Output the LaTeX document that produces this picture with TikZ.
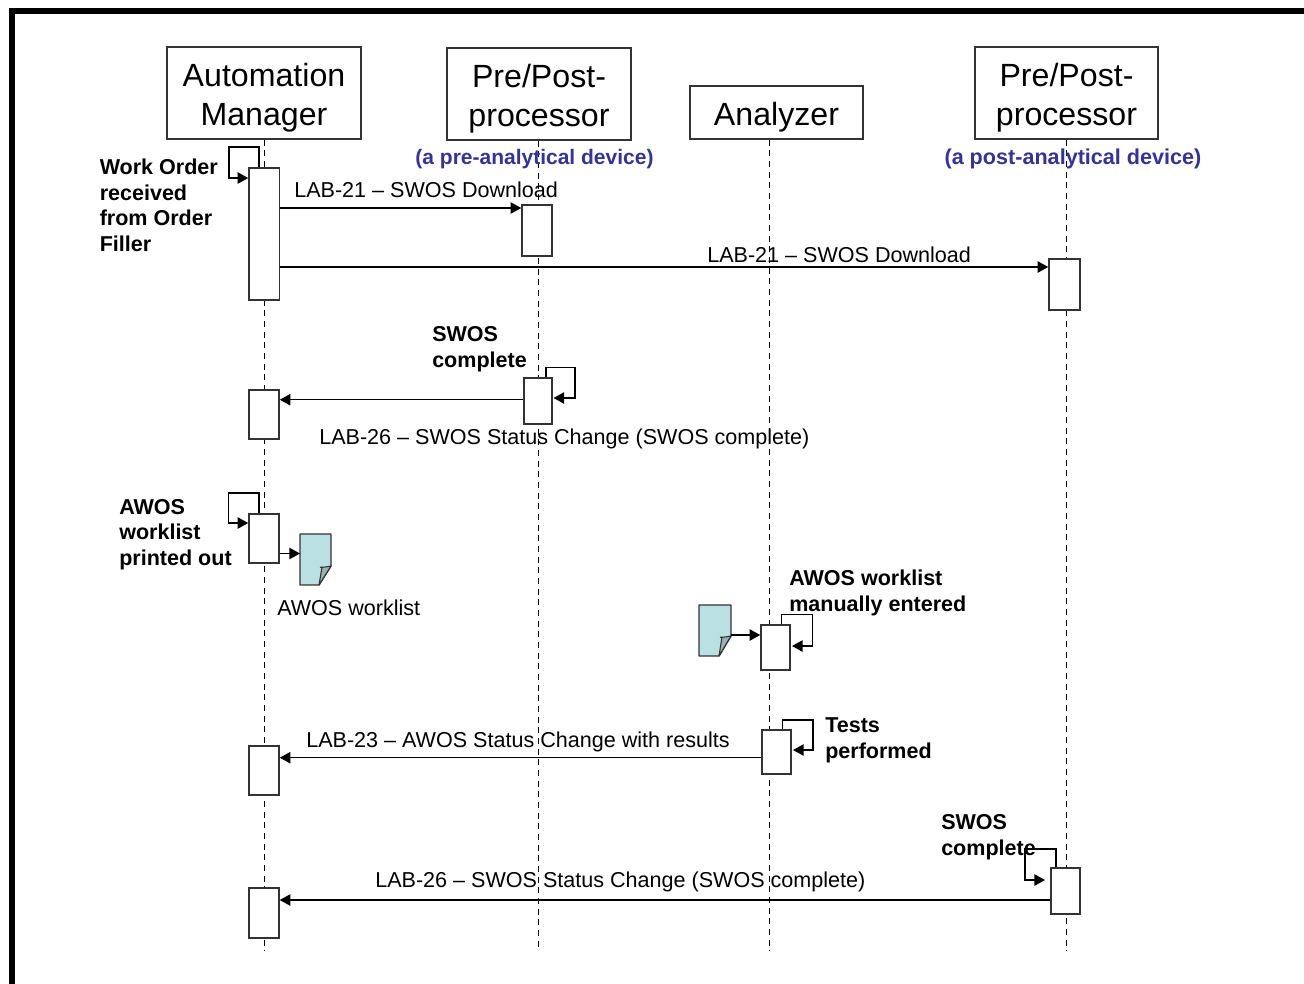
\documentclass[tikz,border=0pt]{standalone}
\usepackage{fontspec}
\setmainfont{Liberation Sans}
\usetikzlibrary{arrows.meta,calc}
\definecolor{inkgray}{HTML}{333333}
\definecolor{docfill}{HTML}{BBE0E3}
\definecolor{docfold}{HTML}{96B3B6}
\definecolor{noteblue}{HTML}{333399}
\tikzset{
  headbox/.style={draw=inkgray,line width=.95pt,fill=white,inner sep=0pt,align=center,font=\fontsize{24.1}{29.25}\selectfont},
  actbox/.style={draw=inkgray,line width=1.1pt,fill=white,inner sep=0pt},
  lifeline/.style={black,line width=.9pt,dash pattern=on 4.4pt off 3.6pt},
  msg/.style={black,line width=1.15pt,-{Triangle[length=8pt,width=8.5pt]}},
  msgtext/.style={inner sep=0pt,anchor=base west,font=\fontsize{16.17}{19.1}\selectfont},
  notetext/.style={inner sep=0pt,anchor=base west,align=left,font=\fontsize{16.15}{19.1}\selectfont\bfseries},
  bluetext/.style={inner sep=0pt,anchor=base,text=noteblue,font=\fontsize{15.75}{19.1}\selectfont\bfseries},
  bluetextwide/.style={bluetext,font=\fontsize{16.2}{19.1}\selectfont\bfseries},
  docsheet/.style={draw=inkgray,line width=1.1pt,fill=docfill,line join=round},
  docflap/.style={draw=inkgray,line width=.8pt,fill=docfold,line join=round},
}
\newcommand{\pxbox}[6]{\node[#1,minimum width={(#4-#2)*.75pt},minimum height={(#5-#3)*.75pt}] (#6) at ({(#2+#4)/2},{(#3+#5)/2})}
\newcommand{\hup}{\rule{0pt}{23.95pt}}
\newcommand{\hdn}{\rule[-5.2pt]{0pt}{5.2pt}}
\begin{document}
\begin{tikzpicture}[x=.75pt,y=-.75pt]
\useasboundingbox (0,0) rectangle (1304,983);
\draw[black,line width=4.5pt] (12,990) -- (12,11) -- (1310,11);
% headers
\pxbox{headbox}{167}{47}{361}{139}{hA} {\hup Automation\\Manager\hdn};
\pxbox{headbox}{447}{48}{631}{140}{hB} {\hup Pre/Post-\\processor\hdn};
\pxbox{headbox}{690}{86}{863}{139}{hC} {\hup Analyzer\hdn};
\pxbox{headbox}{975}{47}{1158}{139}{hD} {\hup Pre/Post-\\processor\hdn};
% lifelines
\coordinate (endA) at (264.5,951);
\coordinate (endB) at (538.5,951);
\coordinate (endC) at (769.5,951);
\coordinate (endD) at (1066.5,951);
\draw[lifeline] (hA.south -| endA) -- (endA);
\draw[lifeline] (hB.south -| endB) -- (endB);
\draw[lifeline] (hC.south -| endC) -- (endC);
\draw[lifeline] (hD.south -| endD) -- (endD);
% labels
\node[bluetext] (tPre) at (534.5,164) {(a pre-analytical device)};
\node[bluetextwide] (tPost) at (1073,164) {(a post-analytical device)};
\node[notetext] (tWork) at (99.5,251) {Work Order\\received\\from Order\\Filler};
\node[msgtext] (m1) at (294,197) {LAB-21 – SWOS Download};
\node[msgtext] (m2) at (707,262) {LAB-21 – SWOS Download};
\node[notetext] (tSwosA) at (432,367) {SWOS\\complete};
\node[msgtext] (m3) at (319,444) {LAB-26 – SWOS Status Change (SWOS complete)};
\node[notetext] (tAwos) at (119,565) {AWOS\\worklist\\printed out};
\node[msgtext] (tDoc) at (277,615) {AWOS worklist};
\node[notetext] (tManual) at (789,611) {AWOS worklist\\manually entered};
\node[msgtext] (m4) at (306,747) {LAB-23 – AWOS Status Change with results};
\node[notetext] (tTests) at (825,758) {Tests\\performed};
\node[notetext] (tSwosB) at (941,855) {SWOS\\complete};
\node[msgtext] (m5) at (375,887) {LAB-26 – SWOS Status Change (SWOS complete)};
% activations
\pxbox{actbox}{249}{168}{279.5}{300}{aA} {};
\pxbox{actbox}{522}{205}{552}{256}{bA} {};
\pxbox{actbox}{1049}{259}{1080}{310}{dA} {};
\pxbox{actbox}{524}{378}{552}{424}{bB} {};
\pxbox{actbox}{249}{390}{279}{439}{aB} {};
\pxbox{actbox}{249}{514}{279}{563}{aC} {};
\pxbox{actbox}{761}{625}{790}{670}{cA} {};
\pxbox{actbox}{762}{730}{791}{774}{cB} {};
\pxbox{actbox}{249}{746}{279}{795}{aD} {};
\pxbox{actbox}{1051}{868}{1080}{914}{dB} {};
\pxbox{actbox}{249}{888}{279}{938}{aE} {};
% documents
\node[inner sep=0pt,minimum size=0pt] (docA) at (300,534) {};
\node[inner sep=0pt,minimum size=0pt] (docB) at (699,605) {};
\draw[docsheet] (docA.center) -- ++(31,0) -- ++(0,32) -- ++(-12,19) -- ++(-19,0) -- cycle;
\draw[docflap] ($(docA.center)+(31,32)$) .. controls +(-4,1) and +(-6,1) .. ($(docA.center)+(22,33)$) -- ++(-3,18) -- cycle;
\draw[docsheet] (docB.center) -- ++(32,0) -- ++(0,31) -- ++(-12,20) -- ++(-20,0) -- cycle;
\draw[docflap] ($(docB.center)+(32,31)$) .. controls +(-4,1) and +(-6,1) .. ($(docB.center)+(23,32)$) -- ++(-3,19) -- cycle;
% messages
\draw[msg] (aA.east |- 0,208) -- (bA.west |- 0,208);
\draw[msg] (aA.east |- 0,267) -- (dA.west |- 0,267);
\draw[msg] (bB.west |- 0,399.7) -- (aB.east |- 0,399.7);
\draw[msg] (aC.east |- 0,553.5) -- (docA.center |- 0,553.5);
\draw[msg] (docB.center |- 0,635) ++(32,0) -- (cA.west |- 0,635);
\draw[msg] (cB.west |- 0,757.7) -- (aD.east |- 0,757.7);
\draw[msg] (dB.west |- 0,900) -- (aE.east |- 0,900);
% self calls
\draw[msg] (aA.north -| 259,0) -- (259,147) -- (229,147) -- (229,178) -- (aA.west |- 0,178);
\draw[msg] (bB.north -| 546,0) -- (546,367.5) -- (575,367.5) -- (575,398) -- (553.5,398);
\draw[msg] (aC.north -| 259,0) -- (259,493) -- (228.5,493) -- (228.5,523) -- (aC.west |- 0,523);
\draw[msg] (cA.north -| 781.5,0) -- (781.5,614.5) -- (812.5,614.5) -- (812.5,646) -- (792,646);
\draw[msg] (cB.north -| 782.5,0) -- (782.5,720) -- (813,720) -- (813,750) -- (793,750);
\draw[msg] (dB.north -| 1056,0) -- (1056,849) -- (1025,849) -- (1025,880) -- (1045,880);
\end{tikzpicture}
\end{document}
